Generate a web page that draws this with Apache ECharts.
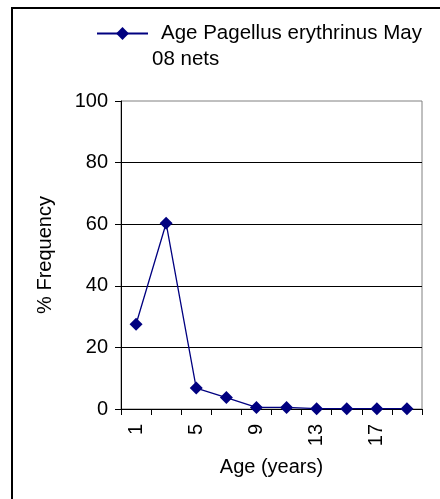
<!DOCTYPE html>
<html>
<head>
<meta charset="utf-8">
<script src="https://cdn.jsdelivr.net/npm/echarts@6/dist/echarts.min.js"></script>
<style>html,body{margin:0;padding:0;background:#fff}#c{width:440px;height:499px}</style>
</head>
<body>
<div id="c"></div>
<script>
const categories = ['1','3','5','7','9','11','13','15','17','19'];
const values = [27.5, 60.3, 6.8, 3.7, 0.5, 0.5, 0.1, 0.1, 0.1, 0.1];
const seriesName = 'Age Pagellus erythrinus May 08 nets';
const legendLine1 = 'Age Pagellus erythrinus May';
const legendLine2 = '08 nets';
const yTicks = [0, 20, 40, 60, 80, 100];

const font = 'Liberation Sans, Arial, sans-serif';
const fs = 20;
const chart = echarts.init(document.getElementById('c'), null, {renderer: 'canvas'});
chart.setOption({
  animation: false,
  backgroundColor: '#fff',
  textStyle: {fontFamily: font},
  grid: {left: 121, right: 18, top: 101, bottom: 90, show: true, borderColor: '#808080', borderWidth: 1},
  legend: {
    left: 96, top: 23, padding: 0,
    itemWidth: 51, itemHeight: 16,
    formatter: () => legendLine1,
    textStyle: {fontSize: 20.5, color: '#000', fontFamily: font, padding: [0, 0, 0, 8]},
    data: [seriesName]
  },
  xAxis: {
    type: 'category', data: categories, boundaryGap: true,
    name: 'Age (years)', nameLocation: 'middle', nameGap: 48,
    nameTextStyle: {fontSize: fs, color: '#000', fontFamily: font},
    axisLine: {show: true, lineStyle: {color: '#000', width: 1}},
    axisTick: {show: true, interval: 0, length: 6, lineStyle: {color: '#000'}},
    axisLabel: {interval: 1, rotate: 90, fontSize: fs, color: '#000', margin: 15, fontFamily: font},
    splitLine: {show: false}
  },
  yAxis: {
    type: 'value', min: 0, max: 100, interval: 20,
    name: '% Frequency', nameLocation: 'middle', nameGap: 66,
    nameTextStyle: {fontSize: fs, color: '#000', fontFamily: font},
    axisLine: {show: true, lineStyle: {color: '#000', width: 1}},
    axisTick: {show: true, length: 6, lineStyle: {color: '#000'}},
    axisLabel: {fontSize: fs, color: '#000', margin: 13, fontFamily: font,
      formatter: v => yTicks.includes(v) ? String(v) : ''},
    splitLine: {show: true, showMinLine: false, showMaxLine: false, lineStyle: {color: '#000', width: 1}}
  },
  series: [{
    name: seriesName, type: 'line', data: values,
    symbol: 'diamond', symbolSize: 13,
    lineStyle: {color: '#000080', width: 1.3},
    itemStyle: {color: '#000080'}
  }],
  graphic: [
    {type: 'text', left: 152, top: 49, style: {text: legendLine2, fontSize: 20.5, fill: '#000', fontFamily: font}},
    {type: 'line', shape: {x1: 12, y1: 7, x2: 12, y2: 499}, style: {stroke: '#000', lineWidth: 2}},
    {type: 'line', shape: {x1: 11, y1: 8, x2: 440, y2: 8}, style: {stroke: '#000', lineWidth: 2}}
  ]
});
</script>
</body>
</html>
